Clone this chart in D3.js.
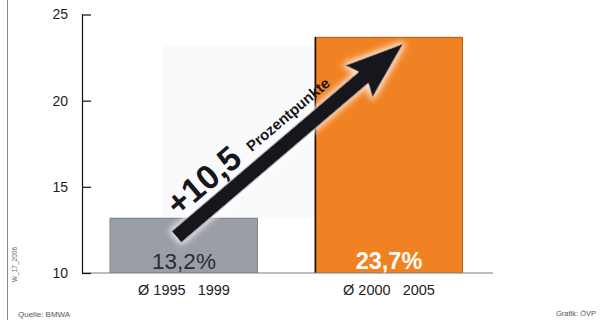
<!DOCTYPE html>
<html>
<head>
<meta charset="utf-8">
<script src="https://cdn.jsdelivr.net/npm/d3@7"></script>
<style>
  html, body { margin: 0; padding: 0; background: #fff; }
  svg { display: block; font-family: "Liberation Sans", Arial, Helvetica, sans-serif; }
</style>
</head>
<body>
<svg id="chart" width="603" height="320"></svg>
<script>
// Durchschnittliche Werte je Zeitraum (in %)
const categories = ["Ø 1995   1999", "Ø 2000   2005"];
const values = [13.2, 23.7];
const valueLabels = ["13,2%", "23,7%"];
const yTicks = [10, 15, 20, 25];
const changeLabel = "+10,5";
const changeUnit = "Prozentpunkte";
// Pfeil: von (Kategorie, Wert) nach (Kategorie, Wert); Position innerhalb des Balkens als Anteil
const arrowFrom = { cat: 0, frac: 0.45, value: 12.1 };
const arrowTo = { cat: 1, frac: 0.595, value: 23.3 };

const svg = d3.select("#chart");
const W = 603, H = 320;

const y = d3.scaleLinear().domain([10, 25]).range([273, 14.5]);
const x = d3.scaleBand().domain(categories).range([82, 491])
  .paddingInner(0.278).paddingOuter(0.1366);

const defs = svg.append("defs");

// Leuchtrand um den Pfeil
const glow = defs.append("filter").attr("id", "glow")
  .attr("x", "-30%").attr("y", "-30%").attr("width", "160%").attr("height", "160%");
glow.append("feMorphology").attr("in", "SourceAlpha").attr("operator", "dilate").attr("radius", 2).attr("result", "d");
glow.append("feGaussianBlur").attr("in", "d").attr("stdDeviation", 3).attr("result", "b");
glow.append("feFlood").attr("flood-color", "#ffffff").attr("flood-opacity", 0.85);
glow.append("feComposite").attr("in2", "b").attr("operator", "in").attr("result", "g");
glow.append("feGaussianBlur").attr("in", "SourceGraphic").attr("stdDeviation", 0.6).attr("result", "s");
const merge = glow.append("feMerge");
merge.append("feMergeNode").attr("in", "g");
merge.append("feMergeNode").attr("in", "s");

// linker Rahmen
svg.append("line").attr("x1", 7.5).attr("x2", 7.5).attr("y1", 0).attr("y2", H)
  .attr("stroke", "#8a8a8a").attr("stroke-width", 1);

// leichter Schleier hinter dem Pfeil
const hazeX0 = x(categories[0]) + x.bandwidth() * 0.36;
const hazeX1 = x(categories[1]);
svg.append("rect").attr("x", hazeX0).attr("y", y(23.2))
  .attr("width", hazeX1 - hazeX0).attr("height", y(values[0]) - y(23.2))
  .attr("fill", "#f9fafb");

// Balken
const barFill = ["#9a9ea6", "#f18223"];
const barEdge = ["#80838a", "#b5601e"];
categories.forEach((c, i) => {
  const x0 = x(c), bw = x.bandwidth(), y0 = y(values[i]), y1 = y(10);
  svg.append("rect").attr("x", x0).attr("y", y0).attr("width", bw).attr("height", y1 - y0)
    .attr("fill", barFill[i]);
  svg.append("path")
    .attr("d", `M${x0},${y1}V${y0 + 0.5}H${x0 + bw - 0.5}V${y1}`)
    .attr("fill", "none").attr("stroke", barEdge[i]).attr("stroke-width", 1);
  if (i === 1) {
    svg.append("line").attr("x1", x0 + 0.5).attr("x2", x0 + 0.5).attr("y1", y0).attr("y2", y1)
      .attr("stroke", "#111").attr("stroke-width", 1.5);
  }
});

// Grundlinie
svg.append("line").attr("x1", 82).attr("x2", 493).attr("y1", y(10)).attr("y2", y(10))
  .attr("stroke", "#7a7a7a").attr("stroke-width", 1.2);

// y-Achse
const yAxis = d3.axisRight(y).tickValues(yTicks).tickSize(9).tickFormat(d3.format("d"));
const ya = svg.append("g").attr("transform", "translate(82,0)").call(yAxis);
ya.attr("font-family", null);
ya.select(".domain").attr("stroke", "#111").attr("stroke-width", 1.2).attr("d", `M0.5,${y(25)}V${y(10)}`);
ya.selectAll(".tick line").attr("stroke", "#111").attr("stroke-width", 1.2);
ya.selectAll(".tick text").attr("x", -14).attr("text-anchor", "end")
  .attr("font-size", 14).attr("fill", "#1e1e1e");

// Kategorien
svg.selectAll(".cat").data(categories).enter().append("text")
  .attr("x", d => x(d) + x.bandwidth() / 2).attr("y", 295)
  .attr("text-anchor", "middle").attr("font-size", 14.5).attr("fill", "#222")
  .style("white-space", "pre").text(d => d);

// Wertbeschriftungen
svg.selectAll(".val").data(values).enter().append("text")
  .attr("x", (d, i) => x(categories[i]) + x.bandwidth() / 2).attr("y", 269)
  .attr("text-anchor", "middle")
  .attr("font-size", (d, i) => i === 0 ? 22.5 : 23.5)
  .attr("font-weight", (d, i) => i === 0 ? "normal" : "bold")
  .attr("fill", (d, i) => i === 0 ? "#2c2c30" : "#ffffff")
  .text((d, i) => valueLabels[i]);

// Pfeil
const p0 = [x(categories[arrowFrom.cat]) + x.bandwidth() * arrowFrom.frac, y(arrowFrom.value)];
const p1 = [x(categories[arrowTo.cat]) + x.bandwidth() * arrowTo.frac, y(arrowTo.value)];
const len = Math.hypot(p1[0] - p0[0], p1[1] - p0[1]);
const ang = Math.atan2(p1[1] - p0[1], p1[0] - p0[0]) * 180 / Math.PI;
const hw = 7.5, headLen = 52, headHw = 21, back = 6;
const arrowPath = `M0,${-hw}L${len - headLen},${-hw}L${len - headLen - back},${-headHw}L${len},0` +
  `L${len - headLen - back},${headHw}L${len - headLen},${hw}L0,${hw}Z`;
const ag = svg.append("g").attr("transform", `translate(${p0[0]},${p0[1]}) rotate(${ang})`);
ag.append("path").attr("d", arrowPath).attr("fill", "#16161b").attr("filter", "url(#glow)");

ag.append("text").attr("x", 14).attr("y", -hw - 6)
  .attr("font-size", 34).attr("font-weight", "bold").attr("fill", "#16161b")
  .text(changeLabel);
ag.append("text").attr("x", 112).attr("y", -hw - 8)
  .attr("font-size", 15).attr("font-weight", "bold").attr("fill", "#16161b")
  .text(changeUnit);

// Quellen
svg.append("text").attr("x", 18).attr("y", 317).attr("font-size", 8).attr("fill", "#555").text("Quelle: BMWA");
svg.append("text").attr("x", 596).attr("y", 316).attr("text-anchor", "end").attr("font-size", 7.5)
  .attr("fill", "#555").text("Grafik: ÖVP");
svg.append("text").attr("transform", "translate(17,282) rotate(-90)").attr("font-size", 6.5)
  .attr("fill", "#666").text("W_17_2006");
</script>
</body>
</html>
